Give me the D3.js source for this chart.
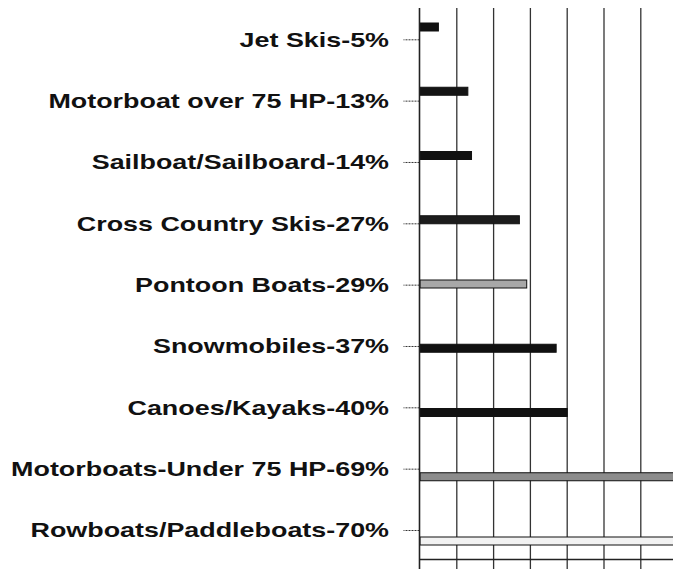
<!DOCTYPE html>
<html>
<head>
<meta charset="utf-8">
<script src="https://cdn.jsdelivr.net/npm/d3@7/dist/d3.min.js"></script>
<style>
  html, body { margin: 0; padding: 0; background: #fff; }
  svg { display: block; }
</style>
</head>
<body>
<svg id="chart" width="673" height="569"></svg>
<script>
// ---- data ----
const categories = [
  "Jet Skis-5%",
  "Motorboat over 75 HP-13%",
  "Sailboat/Sailboard-14%",
  "Cross Country Skis-27%",
  "Pontoon Boats-29%",
  "Snowmobiles-37%",
  "Canoes/Kayaks-40%",
  "Motorboats-Under 75 HP-69%",
  "Rowboats/Paddleboats-70%"
];
const values = [5, 13, 14, 27, 29, 37, 40, 69, 70];
const gridTicks = [0, 10, 20, 30, 40, 50, 60, 70];
const barFills = ["#111", "#141414", "#111", "#1c1c1c", "#a8a8a8", "#111", "#111", "#8c8c8c", "#f2f2f2"];

// ---- chart ----
const svg = d3.select("#chart");
const x = d3.scaleLinear().domain([0, 70]).range([420, 677.6]);
const yTick = d3.scalePoint().domain(categories).range([39.3, 530]);
const yBar = d3.scalePoint().domain(categories).range([27, 541]);
const barH = 8;

// vertical grid lines
svg.append("g").selectAll("line").data(gridTicks.slice(1)).join("line")
  .attr("x1", d => x(d)).attr("x2", d => x(d))
  .attr("y1", 8).attr("y2", 569)
  .attr("stroke", "#333").attr("stroke-width", 1.3);

// bottom axis line
svg.append("line")
  .attr("x1", x(0)).attr("x2", 673)
  .attr("y1", 559.5).attr("y2", 559.5)
  .attr("stroke", "#222").attr("stroke-width", 1.3);

// bars
svg.append("g").selectAll("rect").data(values).join("rect")
  .attr("x", x(0))
  .attr("y", (d, i) => yBar(categories[i]) - barH / 2)
  .attr("width", d => x(d) - x(0))
  .attr("height", barH)
  .attr("fill", (d, i) => barFills[i])
  .attr("stroke", "#111")
  .attr("stroke-width", 1);

// left axis
const axis = d3.axisLeft(yTick).tickSize(16).tickPadding(13).tickFormat("");
const gAxis = svg.append("g").attr("transform", `translate(${x(0) - 0.5},0)`).call(axis);
gAxis.select(".domain").remove();
gAxis.selectAll(".tick line").attr("stroke", "#333").attr("stroke-width", 1).attr("stroke-dasharray", "2,1");
svg.append("line")
  .attr("x1", x(0) - 0.5).attr("x2", x(0) - 0.5)
  .attr("y1", 8).attr("y2", 569)
  .attr("stroke", "#222").attr("stroke-width", 1.6);

// labels (horizontally stretched like the scan)
svg.append("g").selectAll("text").data(categories).join("text")
  .attr("transform", d => `translate(389,${yTick(d)}) scale(1.345,1)`)
  .attr("text-anchor", "end")
  .attr("dy", "0.36em")
  .attr("font-family", "'Liberation Sans', Arial, sans-serif")
  .attr("font-weight", "bold")
  .attr("font-size", 20)
  .attr("fill", "#111")
  .text(d => d);
</script>
</body>
</html>
